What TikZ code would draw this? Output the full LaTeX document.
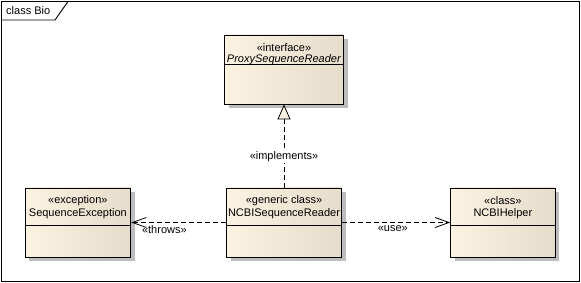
\documentclass[tikz,border=0pt]{standalone}
\usepackage{fontspec}
\setmainfont{Liberation Sans}
\usepackage{tikz}
\usetikzlibrary{arrows.meta,calc,positioning,shadows}
\usepackage{xcolor}
\definecolor{clsleft}{HTML}{FCF2E2}
\definecolor{clsright}{HTML}{E5DCCB}
\definecolor{shadowgray}{HTML}{BDBDBD}
\newcommand{\umlfont}{\fontsize{11}{13}\selectfont}

\begin{document}
\begin{tikzpicture}[x=1pt,y=-1pt,
  cls/.style={draw,line width=0.9pt,left color=clsleft,right color=clsright,
    drop shadow={shadow xshift=4pt,shadow yshift=-4pt,fill=shadowgray,opacity=1},
    minimum height=69pt,inner sep=0pt},
  dep/.style={dash pattern=on 5pt off 3pt,line width=0.8pt},
  lbl/.style={font=\umlfont,inner sep=1pt}]
  \useasboundingbox (0,0) rectangle (581,283);
  % frame
  \draw[line width=0.9pt] (1.5,1.5) rectangle (579,281.5);
  \draw[line width=0.9pt] (1.5,20) -- (55,20) -- (68,1.5);
  \node[lbl,anchor=west] (title) at (5,11) {class Bio};
  % classes
  \node[cls,minimum width=119pt] (iface) at (284,69.5) {};
  \draw[line width=0.9pt] ([yshift=-30pt]iface.north west) -- ([yshift=-30pt]iface.north east);
  \node[lbl] (ifaceS) at ([yshift=-13pt]iface.north) {«interface»};
  \node[lbl] (ifaceN) at ([yshift=-25pt]iface.north) {\textit{ProxySequenceReader}};
  \node[cls,minimum width=105.7pt] (except) at (77.85,222.5) {};
  \draw[line width=0.9pt] ([yshift=-37.5pt]except.north west) -- ([yshift=-37.5pt]except.north east);
  \node[lbl] (exceptS) at ([yshift=-13.5pt]except.north) {«exception»};
  \node[lbl] (exceptN) at ([yshift=-26pt]except.north) {SequenceException};
  \node[cls,minimum width=115pt] (reader) at (284,222.5) {};
  \draw[line width=0.9pt] ([yshift=-37.5pt]reader.north west) -- ([yshift=-37.5pt]reader.north east);
  \node[lbl] (readerS) at ([yshift=-13.5pt]reader.north) {«generic class»};
  \node[lbl] (readerN) at ([yshift=-26pt]reader.north) {NCBISequenceReader};
  \node[cls,minimum width=104.3pt] (helper) at (502.85,222.5) {};
  \draw[line width=0.9pt] ([yshift=-37.5pt]helper.north west) -- ([yshift=-37.5pt]helper.north east);
  \node[lbl] (helperS) at ([yshift=-13.5pt]helper.north) {«class»};
  \node[lbl] (helperN) at ([yshift=-26pt]helper.north) {NCBIHelper};
  % dependencies
  \draw[dep,-{Triangle[length=15pt,width=13pt,fill=clsleft]}] (reader) -- node[lbl,fill=white,pos=0.37] (implLbl) {«implements»} (iface);
  \draw[dep,-{Straight Barb[length=14pt,width=10pt]}] (reader) -- node[lbl,below,pos=0.65,inner sep=3pt] (throwsLbl) {«throws»} (except);
  \draw[dep,-{Straight Barb[length=14pt,width=10pt]}] (reader) -- node[lbl,below,pos=0.47,inner sep=3pt] (useLbl) {«use»} (helper);
\end{tikzpicture}
\end{document}
